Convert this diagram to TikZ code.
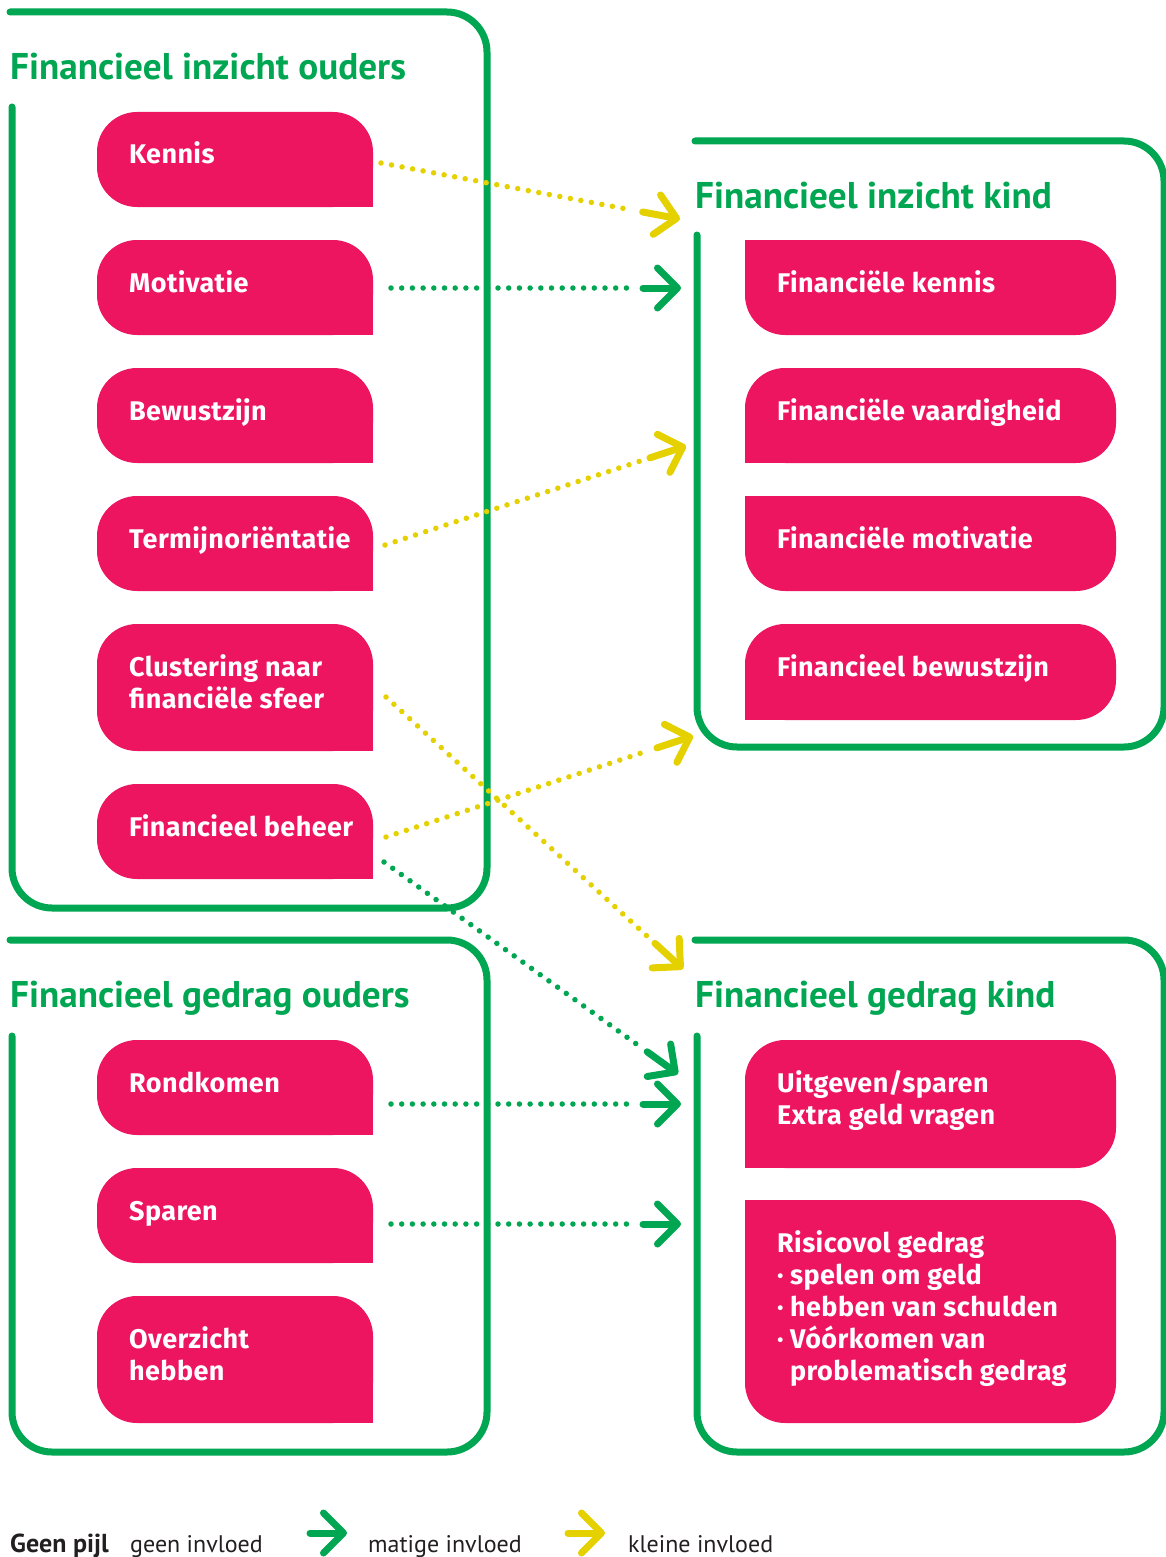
\documentclass[tikz,border=0pt]{standalone}
\usepackage{fontspec}
\setmainfont{PT Sans}
\newfontfamily\boxfont[LetterSpace=1.5]{Fira Sans}
\usetikzlibrary{arrows.meta,calc}
\definecolor{gr}{RGB}{0,166,81}
\definecolor{pk}{RGB}{237,21,96}
\definecolor{yl}{RGB}{229,208,0}
\definecolor{tx}{RGB}{35,31,32}
\tikzset{
  frame/.style={draw=gr, line width=7pt, line cap=round, rounded corners=40pt},
  pbox/.style={fill=pk, rounded corners=40pt, inner sep=0pt, outer sep=0pt, anchor=north west},
  lbox/.style={pbox, minimum width=276pt},
  rbox/.style={pbox, minimum width=371pt},
  btxt/.style={anchor=base west, text=white, font=\boxfont\fontsize{27}{32}\selectfont\bfseries, align=left, inner sep=0pt},
  ttl/.style={anchor=base west, text=gr, font=\fontsize{37.2}{40}\selectfont\bfseries, inner sep=0pt},
  dotsY/.style={draw=yl, line width=5.5pt, line cap=round, dash pattern=on 0pt off 10.7pt},
  dotsG/.style={draw=gr, line width=5.5pt, line cap=round, dash pattern=on 0pt off 10.7pt},
  headY/.style={draw=yl, line width=7pt, line cap=round, line join=round, -{Straight Barb[length=20pt, width=40pt, round]}},
  headG/.style={draw=gr, line width=7pt, line cap=round, line join=round, -{Straight Barb[length=20pt, width=40pt, round]}},
  lgtxt/.style={anchor=base west, text=tx, font=\fontsize{24}{28}\selectfont, inner sep=0pt},
}
\begin{document}
\begin{tikzpicture}[x=1pt,y=-1pt]
\useasboundingbox (0,0) rectangle (1165,1557);

% frames
\draw[frame] (10,12) -- (487,12) -- (487,908) -- (12,908) -- (12,107);
\draw[frame] (10,940) -- (487,940) -- (487,1452) -- (12,1452) -- (12,1036);
\draw[frame] (695,141) -- (1164,141) -- (1164,747) -- (697,747) -- (697,235);
\draw[frame] (695,940) -- (1164,940) -- (1164,1452) -- (697,1452) -- (697,1036);

% titles
\node[ttl] (t1) at (10,80) {Financieel inzicht ouders};
\node[ttl] (t2) at (695,208) {Financieel inzicht kind};
\node[ttl] (t3) at (10,1007) {Financieel gedrag ouders};
\node[ttl] (t4) at (695,1007) {Financieel gedrag kind};

% left boxes
\node[lbox, minimum height=95pt] (kennis) at (97,112) {};
\node[lbox, minimum height=95pt] (motiv) at (97,240) {};
\node[lbox, minimum height=95pt] (bewust) at (97,368) {};
\node[lbox, minimum height=95pt] (termijn) at (97,496) {};
\node[lbox, minimum height=127pt] (cluster) at (97,624) {};
\node[lbox, minimum height=95pt] (beheer) at (97,784) {};
\node[lbox, minimum height=95pt] (rond) at (97,1040) {};
\node[lbox, minimum height=95pt] (sparen) at (97,1168) {};
\node[lbox, minimum height=127pt] (overz) at (97,1296) {};
\foreach \n in {kennis,motiv,bewust,termijn,cluster,beheer,rond,sparen,overz}
  \fill[pk] (\n.south east) rectangle ++(-40,-40);

% right boxes
\node[rbox, minimum height=95pt] (fkennis) at (745,240) {};
\node[rbox, minimum height=95pt] (fvaard) at (745,368) {};
\node[rbox, minimum height=95pt] (fmotiv) at (745,496) {};
\node[rbox, minimum height=96pt] (fbew) at (745,624) {};
\node[rbox, minimum height=128pt] (uitg) at (745,1040) {};
\node[rbox, minimum height=223pt] (risico) at (745,1200) {};
\foreach \n in {fkennis,fmotiv,risico}
  \fill[pk] (\n.north west) rectangle ++(40,40);
\foreach \n in {fvaard,fbew,uitg}
  \fill[pk] (\n.south west) rectangle ++(40,-40);

% box texts (base = baseline of the last line)
\node[btxt] (kennis-t) at ($(kennis.north west)+(32,52)$) {Kennis};
\node[btxt] (motiv-t) at ($(motiv.north west)+(32,52)$) {Motivatie};
\node[btxt] (bewust-t) at ($(bewust.north west)+(32,52)$) {Bewustzijn};
\node[btxt] (termijn-t) at ($(termijn.north west)+(32,52)$) {Termijnoriëntatie};
\node[btxt] (cluster-t) at ($(cluster.north west)+(32,84)$) {Clustering naar\\financiële sfeer};
\node[btxt] (beheer-t) at ($(beheer.north west)+(32,52)$) {Financieel beheer};
\node[btxt] (rond-t) at ($(rond.north west)+(32,52)$) {Rondkomen};
\node[btxt] (sparen-t) at ($(sparen.north west)+(32,52)$) {Sparen};
\node[btxt] (overz-t) at ($(overz.north west)+(32,84)$) {Overzicht\\hebben};
\node[btxt] (fkennis-t) at ($(fkennis.north west)+(32,52)$) {Financiële kennis};
\node[btxt] (fvaard-t) at ($(fvaard.north west)+(32,52)$) {Financiële vaardigheid};
\node[btxt] (fmotiv-t) at ($(fmotiv.north west)+(32,52)$) {Financiële motivatie};
\node[btxt] (fbew-t) at ($(fbew.north west)+(32,52)$) {Financieel bewustzijn};
\node[btxt] (uitg-t) at ($(uitg.north west)+(32,84)$) {Uitgeven/sparen\\Extra geld vragen};
\node[btxt] (risico-t) at ($(risico.north west)+(32,180)$) {Risicovol gedrag\\
  \makebox[13pt][l]{·}spelen om geld\\
  \makebox[13pt][l]{·}hebben van schulden\\
  \makebox[13pt][l]{·}Vóórkomen van\\
  \hspace*{13pt}problematisch gedrag};

% arrow endpoints
\coordinate (s1) at (381,163);  \coordinate (e1) at (680,219);
\coordinate (s2) at (391,288);  \coordinate (e2) at (681,288);
\coordinate (s3) at (385,545);  \coordinate (e3) at (686,446);
\coordinate (s4) at (386,697);  \coordinate (e4) at (683,969);
\coordinate (s5) at (386,837);  \coordinate (e5) at (693,736);
\coordinate (s6) at (384,862);  \coordinate (e6) at (678,1074);
\coordinate (s7) at (391,1104); \coordinate (e7) at (681,1104);
\coordinate (s8) at (391,1224); \coordinate (e8) at (681,1224);

\foreach \i in {1,3,4,5}{
  \draw[dotsY] (s\i) -- ($(e\i)!48pt!(s\i)$);
  \draw[headY] ($(e\i)!38pt!(s\i)$) -- (e\i);
}
\foreach \i in {2,6,7,8}{
  \draw[dotsG] (s\i) -- ($(e\i)!48pt!(s\i)$);
  \draw[headG] ($(e\i)!38pt!(s\i)$) -- (e\i);
}

% legend
\node[lgtxt, font=\fontsize{26}{28}\selectfont\bfseries] (lg0) at (10,1552) {Geen pijl};
\node[lgtxt] (lg1) at (130,1552) {geen invloed};
\coordinate (lga) at (310,1533); \coordinate (lgb) at (347,1533);
\draw[headG] (lga) -- (lgb);
\node[lgtxt] (lg2) at (368,1552) {matige invloed};
\coordinate (lgc) at (568,1533); \coordinate (lgd) at (605,1533);
\draw[headY] (lgc) -- (lgd);
\node[lgtxt] (lg3) at (628,1552) {kleine invloed};
\end{tikzpicture}
\end{document}
